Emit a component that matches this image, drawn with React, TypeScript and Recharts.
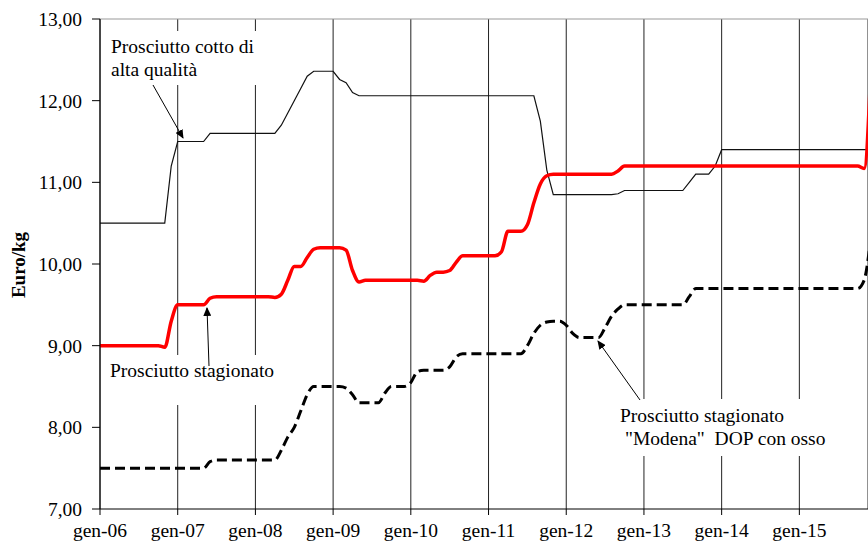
import React from 'react'
import { LineChart, Line, XAxis, YAxis, CartesianGrid, ReferenceLine } from 'recharts'

// one value per month, gen-06 .. dic-15
const cotto = [
  10.5, 10.5, 10.5, 10.5, 10.5, 10.5, 10.5, 10.5, 10.5, 10.5, 10.5, 11.2,
  11.5, 11.5, 11.5, 11.5, 11.5, 11.6, 11.6, 11.6, 11.6, 11.6, 11.6, 11.6,
  11.6, 11.6, 11.6, 11.6, 11.7, 11.85, 12.0, 12.15, 12.3, 12.36, 12.36, 12.36,
  12.36, 12.26, 12.22, 12.1, 12.06, 12.06, 12.06, 12.06, 12.06, 12.06, 12.06, 12.06,
  12.06, 12.06, 12.06, 12.06, 12.06, 12.06, 12.06, 12.06, 12.06, 12.06, 12.06, 12.06,
  12.06, 12.06, 12.06, 12.06, 12.06, 12.06, 12.06, 12.06, 11.75, 11.15, 10.85, 10.85,
  10.85, 10.85, 10.85, 10.85, 10.85, 10.85, 10.85, 10.85, 10.86, 10.9, 10.9, 10.9,
  10.9, 10.9, 10.9, 10.9, 10.9, 10.9, 10.9, 11.0, 11.1, 11.1, 11.1, 11.2,
  11.4, 11.4, 11.4, 11.4, 11.4, 11.4, 11.4, 11.4, 11.4, 11.4, 11.4, 11.4,
  11.4, 11.4, 11.4, 11.4, 11.4, 11.4, 11.4, 11.4, 11.4, 11.4, 11.4, 11.4,
]

const stagionato = [
  9.0, 9.0, 9.0, 9.0, 9.0, 9.0, 9.0, 9.0, 9.0, 9.0, 8.98, 9.3,
  9.5, 9.5, 9.5, 9.5, 9.5, 9.58, 9.6, 9.6, 9.6, 9.6, 9.6, 9.6,
  9.6, 9.6, 9.6, 9.59, 9.63, 9.8, 9.97, 9.97, 10.08, 10.18, 10.2, 10.2,
  10.2, 10.2, 10.17, 9.92, 9.78, 9.8, 9.8, 9.8, 9.8, 9.8, 9.8, 9.8,
  9.8, 9.8, 9.79, 9.86, 9.9, 9.9, 9.92, 10.02, 10.1, 10.1, 10.1, 10.1,
  10.1, 10.1, 10.15, 10.4, 10.4, 10.4, 10.48, 10.75, 10.98, 11.08, 11.1, 11.1,
  11.1, 11.1, 11.1, 11.1, 11.1, 11.1, 11.1, 11.1, 11.14, 11.2, 11.2, 11.2,
  11.2, 11.2, 11.2, 11.2, 11.2, 11.2, 11.2, 11.2, 11.2, 11.2, 11.2, 11.2,
  11.2, 11.2, 11.2, 11.2, 11.2, 11.2, 11.2, 11.2, 11.2, 11.2, 11.2, 11.2,
  11.2, 11.2, 11.2, 11.2, 11.2, 11.2, 11.2, 11.2, 11.2, 11.2, 11.17, 12.3,
]

const modena = [
  7.5, 7.5, 7.5, 7.5, 7.5, 7.5, 7.5, 7.5, 7.5, 7.5, 7.5, 7.5,
  7.5, 7.5, 7.5, 7.5, 7.5, 7.58, 7.6, 7.6, 7.6, 7.6, 7.6, 7.6,
  7.6, 7.6, 7.6, 7.6, 7.72, 7.88, 8.0, 8.2, 8.4, 8.5, 8.5, 8.5,
  8.5, 8.5, 8.48, 8.4, 8.3, 8.3, 8.3, 8.3, 8.42, 8.5, 8.5, 8.5,
  8.55, 8.68, 8.7, 8.7, 8.7, 8.7, 8.74, 8.86, 8.9, 8.9, 8.9, 8.9,
  8.9, 8.9, 8.9, 8.9, 8.9, 8.9, 9.0, 9.15, 9.25, 9.29, 9.3, 9.3,
  9.25, 9.15, 9.1, 9.1, 9.1, 9.1, 9.22, 9.36, 9.45, 9.5, 9.5, 9.5,
  9.5, 9.5, 9.5, 9.5, 9.5, 9.5, 9.5, 9.6, 9.7, 9.7, 9.7, 9.7,
  9.7, 9.7, 9.7, 9.7, 9.7, 9.7, 9.7, 9.7, 9.7, 9.7, 9.7, 9.7,
  9.7, 9.7, 9.7, 9.7, 9.7, 9.7, 9.7, 9.7, 9.7, 9.7, 9.8, 10.3,
]

const yearLabels = ['gen-06', 'gen-07', 'gen-08', 'gen-09', 'gen-10', 'gen-11', 'gen-12', 'gen-13', 'gen-14', 'gen-15']
const yTicks = [7, 8, 9, 10, 11, 12, 13]

const data = cotto.map((v, i) => ({
  m: i,
  cotto: v,
  stagionato: stagionato[i],
  modena: modena[i],
}))

const W = 868
const H = 543
const font = 'Liberation Serif, Times New Roman, serif'
const tickStyle = { fill: '#000', fontSize: 19.5, fontFamily: font }

const App: React.FC = () => {
  return (
    // fixed box so the body margin / page width can't squeeze the svg
    <div style={{ position: 'fixed', left: 0, top: 0, width: W, height: H, background: '#fff' }}>
      <LineChart
        width={W}
        height={H}
        data={data}
        margin={{ top: 19, right: 0, bottom: 4, left: 40 }}
      >
        <CartesianGrid horizontal={false} stroke="#222" />
        <ReferenceLine y={13} stroke="#999" />
        <XAxis
          dataKey="m"
          type="number"
          domain={[0, 118.6]}
          allowDataOverflow
          ticks={yearLabels.map((_, i) => i * 12)}
          tickFormatter={(v: number) => yearLabels[v / 12]}
          tickSize={6}
          tickMargin={8}
          height={30}
          stroke="#000"
          tick={tickStyle}
        />
        <YAxis
          domain={[7, 13]}
          ticks={yTicks}
          tickFormatter={(v: number) => v.toFixed(2).replace('.', ',')}
          tickSize={8}
          tickMargin={10}
          width={60}
          stroke="#000"
          tick={tickStyle}
        />
        <Line
          type="linear"
          dataKey="cotto"
          stroke="#111"
          strokeWidth={1.2}
          dot={false}
          isAnimationActive={false}
        />
        <Line
          type="monotone"
          dataKey="modena"
          stroke="#000"
          strokeWidth={3}
          strokeDasharray="10 5"
          dot={false}
          isAnimationActive={false}
        />
        <Line
          type="monotone"
          dataKey="stagionato"
          stroke="#ff0000"
          strokeWidth={3.5}
          dot={false}
          isAnimationActive={false}
        />
      </LineChart>

      {/* annotations */}
      <svg
        width={W}
        height={H}
        style={{ position: 'absolute', left: 0, top: 0, pointerEvents: 'none' }}
      >
        <defs>
          <marker id="arrow" markerWidth="9" markerHeight="8" refX="8" refY="4" orient="auto" markerUnits="userSpaceOnUse">
            <path d="M0,0 L9,4 L0,8 z" fill="#000" />
          </marker>
        </defs>
        <g fontFamily={font} fontSize={19.5} fill="#000">
          <rect x={105} y={31} width={157} height={54} fill="#fff" />
          <text x={111} y={53}>Prosciutto cotto di</text>
          <text x={111} y={76}>alta qualità</text>

          <rect x={103} y={355} width={180} height={50} fill="#fff" />
          <text x={110} y={377}>Prosciutto stagionato</text>

          <rect x={612} y={399} width={220} height={57} fill="#fff" />
          <text x={620} y={422}>Prosciutto stagionato</text>
          <text x={625} y={445} style={{ whiteSpace: 'pre' }}>"Modena"  DOP con osso</text>
        </g>
        <g stroke="#000" strokeWidth={1}>
          <line x1={153} y1={85} x2={183} y2={138} markerEnd="url(#arrow)" />
          <line x1={209} y1={366} x2={207} y2={308} markerEnd="url(#arrow)" />
          <line x1={640} y1={400} x2={598} y2={341} markerEnd="url(#arrow)" />
        </g>
        <text
          x={18}
          y={265}
          transform="rotate(-90 18 265)"
          textAnchor="middle"
          dominantBaseline="central"
          fontFamily={font}
          fontSize={19}
          fontWeight="bold"
          fill="#000"
        >
          Euro/kg
        </text>
      </svg>
    </div>
  )
}

export default App
